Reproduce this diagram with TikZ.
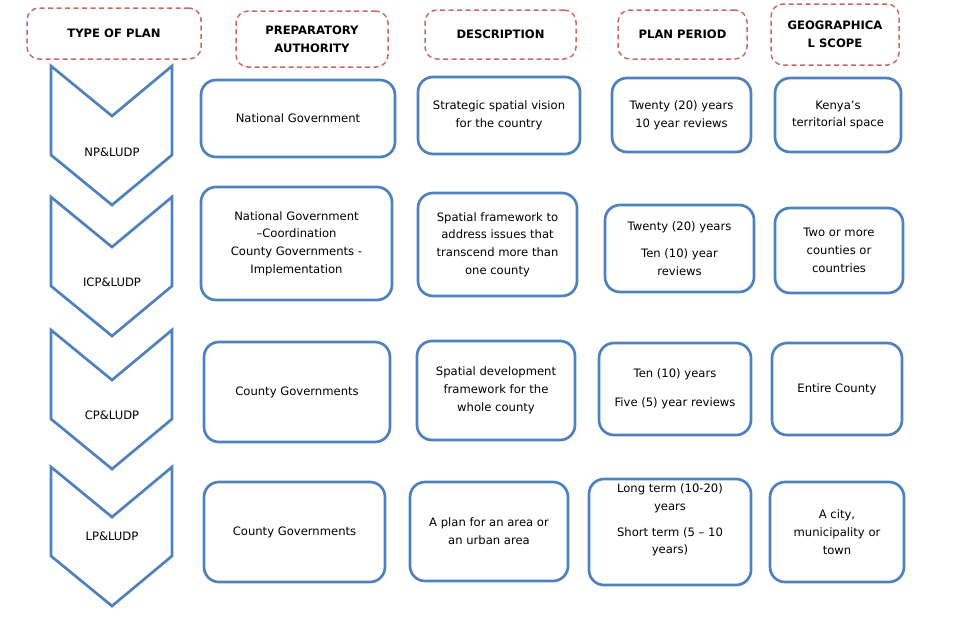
\documentclass[tikz,border=0pt]{standalone}
\usepackage{fontspec}
\setmainfont{DejaVu Sans}
\definecolor{boxblue}{HTML}{4F81BD}
\definecolor{hdrred}{HTML}{D06565}
\tikzset{
  cell/.style={draw=boxblue, line width=2.7pt, rounded corners=15pt, fill=white, align=center, inner sep=0pt,
    font=\fontsize{11.6}{17.8}\selectfont},
  hdr/.style={draw=hdrred, line width=1.5pt, dash pattern=on 5pt off 3.5pt, rounded corners=12pt, align=center, inner sep=0pt,
    font=\fontsize{11.6}{18}\selectfont\bfseries},
  chev/.style={draw=boxblue, line width=2.7pt, fill=white, line join=miter},
  lbl/.style={font=\fontsize{11.6}{17.8}\selectfont, inner sep=0pt, align=center}
}
\newcommand{\cellbox}[6]{% name, x1, y1, x2, y2, text
  \node[cell, minimum width={(#4-#2)*1pt}, minimum height={(#5-#3)*1pt}] (#1) at ({(#2+#4)/2},{(#3+#5)/2}) {#6};}
\newcommand{\hdrbox}[6]{%
  \node[hdr, minimum width={(#4-#2)*1pt}, minimum height={(#5-#3)*1pt}] (#1) at ({(#2+#4)/2},{(#3+#5)/2}) {#6};}
\newcommand{\chevron}[4]{% name, top y, label, label y
  \draw[chev] (51,#2) -- (112,#2+50) -- (172,#2) -- (172,#2+89) -- (112,#2+139) -- (51,#2+89) -- cycle;
  \node[lbl] (#1) at (112,#4) {#3};}
\begin{document}
\begin{tikzpicture}[x=1pt,y=-1pt]
\useasboundingbox (0,0) rectangle (960,616);
% headers
\hdrbox{h1}{27}{8}{201}{59}{TYPE OF PLAN}
\hdrbox{h2}{236}{11}{388}{67}{PREPARATORY\\AUTHORITY}
\hdrbox{h3}{425}{10}{576}{59}{DESCRIPTION}
\hdrbox{h4}{618}{10}{747}{59}{PLAN PERIOD}
\hdrbox{h5}{771}{4}{899}{65}{GEOGRAPHICA\\L SCOPE}
% chevrons
\chevron{t1}{66}{NP\&LUDP}{152}
\chevron{t2}{197}{ICP\&LUDP}{282}
\chevron{t3}{330}{CP\&LUDP}{415}
\chevron{t4}{467}{LP\&LUDP}{536}
% row 1
\cellbox{a1}{201}{80}{395}{157}{National Government}
\cellbox{d1}{418}{77}{580}{154}{Strategic spatial vision\\for the country}
\cellbox{p1}{612}{78}{751}{152}{Twenty (20) years\\10 year reviews}
\cellbox{s1}{775}{78}{901}{152}{Kenya’s\\territorial space}
% row 2
\cellbox{a2}{201}{187}{392}{300}{National Government\\–Coordination\\County Governments -\\Implementation}
\cellbox{d2}{418}{193}{577}{296}{Spatial framework to\\address issues that\\transcend more than\\one county}
\cellbox{p2}{605}{205}{754}{292}{Twenty (20) years\\[10pt]Ten (10) year\\reviews}
\cellbox{s2}{775}{208}{903}{293}{Two or more\\counties or\\countries}
% row 3
\cellbox{a3}{204}{342}{390}{442}{County Governments}
\cellbox{d3}{417}{341}{575}{440}{Spatial development\\framework for the\\whole county}
\cellbox{p3}{599}{343}{751}{435}{Ten (10) years\\[11pt]Five (5) year reviews}
\cellbox{s3}{772}{343}{902}{435}{Entire County}
% row 4
\cellbox{a4}{204}{482}{385}{582}{County Governments}
\cellbox{d4}{410}{482}{568}{581}{A plan for an area or\\an urban area}
\cellbox{p4}{589}{479}{751}{585}{}
\node[lbl] (p4t) at ([yshift=12pt]p4.center) {Long term (10-20)\\years\\[8pt]Short term (5 – 10\\years)};
\cellbox{s4}{770}{482}{904}{582}{A city,\\municipality or\\town}
\end{tikzpicture}
\end{document}
